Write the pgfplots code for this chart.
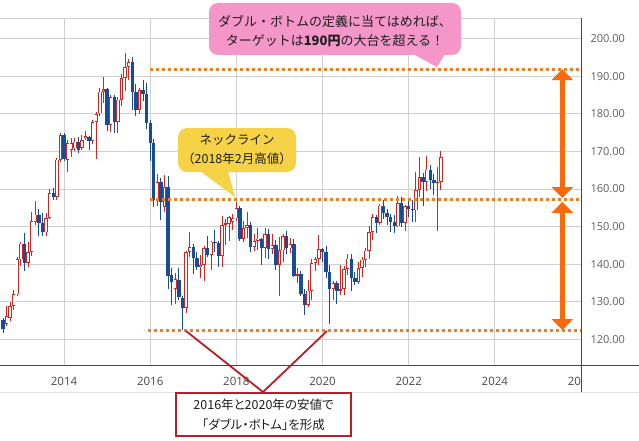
\documentclass[border=0pt]{standalone}
\usepackage{fontspec}
\setmainfont{Open Sans}
\newfontfamily\jp{Noto Sans CJK JP}
\newfontfamily\jpp{Noto Sans CJK JP}[RawFeature=+palt]
\usepackage{pgfplots}
\pgfplotsset{compat=1.18}
\usepackage{pgfplotstable}
\usetikzlibrary{arrows.meta}

\definecolor{upred}{RGB}{222,32,28}
\definecolor{dnblue}{RGB}{22,76,152}
\definecolor{gridc}{RGB}{208,208,208}
\definecolor{faint}{RGB}{228,228,228}
\definecolor{labgray}{RGB}{95,95,95}
\definecolor{xlabgray}{RGB}{75,75,75}
\definecolor{axisdark}{RGB}{70,70,70}
\definecolor{dotor}{RGB}{240,125,40}
\definecolor{arror}{RGB}{250,105,10}
\definecolor{pinkc}{RGB}{245,150,200}
\definecolor{yelc}{RGB}{245,210,70}
\definecolor{boxred}{RGB}{185,30,40}
\definecolor{txt}{RGB}{30,30,30}

% month index: 0 = Jan 2012
\pgfplotstableread{
m O H L C
8 124.1 128.9 123.5 126.3
9 125.8 130.0 124.9 128.9
10 128.9 133.2 127.8 132.0
11 132.0 141.8 131.5 141.3
12 141.3 146.0 139.6 145.5
14 140.4 145.9 139.4 143.2
15 143.2 153.8 142.2 151.4
16 151.2 156.7 150.5 153.2
19 148.5 153.6 147.6 152.3
20 152.3 160.0 152.0 158.9
22 157.9 168.2 157.0 167.8
23 167.8 174.8 167.3 174.4
25 167.8 173.1 164.5 172.2
26 170.4 173.5 168.6 172.2
27 170.8 173.5 170.0 172.6
29 171.0 174.5 170.4 173.0
30 173.5 175.5 173.0 174.0
32 172.8 178.5 172.0 177.8
33 177.8 180.5 168.0 180.0
34 180.1 187.0 179.5 185.9
35 185.9 189.8 183.0 186.5
37 177.0 185.0 175.1 184.5
39 177.8 184.5 175.0 183.8
40 183.8 190.5 182.0 189.5
41 189.5 196.2 186.0 192.4
42 192.4 194.5 189.0 193.8
45 181.0 186.8 180.0 186.3
50 157.0 164.0 155.5 161.8
52 155.3 163.7 154.0 160.6
55 133.5 137.8 129.5 136.0
58 128.4 143.5 127.0 143.2
59 143.2 148.6 142.0 144.6
62 139.3 142.5 136.4 139.8
63 139.8 144.8 135.6 144.3
65 142.4 146.3 138.6 146.0
68 142.3 152.8 139.4 150.5
69 150.5 152.0 145.0 150.9
70 150.8 152.9 146.3 152.5
71 151.2 153.4 149.2 152.2
72 152.2 156.6 151.5 155.0
74 146.8 151.5 145.9 149.6
75 149.6 153.8 146.9 150.4
77 144.7 148.0 143.6 146.2
78 146.2 149.7 143.8 146.8
80 144.4 149.7 141.7 148.0
82 144.0 148.0 142.8 145.0
84 139.8 147.3 131.5 143.7
85 143.7 148.0 140.5 147.5
87 144.2 147.0 143.0 145.3
89 136.9 139.1 135.0 137.3
92 129.2 135.8 128.6 133.0
93 133.0 141.5 130.4 140.3
94 140.3 142.0 138.3 141.4
95 141.4 147.9 139.7 144.0
99 133.5 135.6 130.6 135.0
101 133.0 139.7 131.8 133.4
102 133.4 139.5 131.9 138.8
103 138.8 142.7 137.2 141.5
106 135.4 140.7 134.8 139.0
107 139.0 141.8 136.6 141.2
108 141.2 144.2 139.4 143.6
109 143.6 150.3 141.3 148.6
110 148.6 153.4 146.5 152.6
112 151.1 156.0 150.4 155.6
117 150.1 158.2 149.8 156.2
119 151.0 155.8 148.9 155.4
122 154.3 164.6 151.3 159.8
123 159.8 168.5 158.0 163.2
125 162.0 168.7 159.4 165.2
128 161.6 166.0 148.8 162.0
129 162.0 170.2 159.7 168.5
}\upT

\pgfplotstableread{
m O H L C
7 125.2 125.8 121.7 122.8
13 145.5 148.3 138.2 140.4
17 153.2 154.6 147.5 151.0
18 151.0 153.5 147.5 148.5
21 158.9 160.2 157.1 157.9
24 174.4 174.8 167.5 168.0
28 172.6 173.9 169.5 170.4
31 173.9 174.0 170.4 172.8
36 186.5 186.8 175.5 177.0
38 184.5 185.0 175.0 177.8
43 193.8 195.0 181.0 185.8
44 185.8 188.0 179.5 181.0
46 186.3 189.0 183.5 185.4
47 185.4 188.2 176.0 177.5
48 177.5 178.5 167.5 172.2
49 172.2 173.3 155.2 157.0
51 161.8 163.0 151.8 156.5
53 160.6 163.5 133.3 137.0
54 137.2 139.0 129.1 135.2
56 135.8 139.0 130.5 131.3
57 131.0 131.5 122.4 128.4
60 144.6 145.5 137.5 141.7
61 141.7 143.3 138.6 139.3
64 144.3 147.5 142.0 142.4
66 146.0 149.0 143.2 145.6
67 145.6 146.3 139.3 142.3
73 155.0 155.5 146.2 146.8
76 150.4 151.3 143.2 144.7
79 146.8 147.0 139.9 144.4
81 148.0 149.5 141.4 144.0
83 145.0 146.4 138.4 139.8
86 147.5 148.9 142.7 144.2
88 145.3 146.6 136.5 136.9
90 137.3 138.3 131.6 132.2
91 132.2 133.3 126.6 129.2
96 144.0 144.3 140.6 143.2
97 143.2 144.9 136.4 138.0
98 138.0 139.7 124.0 133.5
100 135.0 135.6 129.3 133.0
104 141.5 142.7 133.0 136.3
105 136.3 138.0 134.4 135.4
111 152.6 153.2 148.3 151.1
113 155.6 157.0 152.0 153.5
114 153.5 154.7 150.4 152.7
115 152.7 153.3 148.5 151.3
116 151.3 153.0 148.3 150.1
118 156.2 157.8 149.8 151.0
120 155.4 157.7 152.5 154.7
121 154.7 157.0 151.3 154.3
124 163.2 164.3 155.6 162.0
126 165.2 166.3 160.1 162.3
127 162.3 164.0 158.3 161.6
}\dnT

\pgfplotsset{
  candle/.style 2 args={draw=none, mark=none, forget plot,
    error bars/.cd, y dir=plus, y explicit, error mark=none,
    error bar style={draw=#1, line width=#2}},
}

\begin{document}
\begin{tikzpicture}
\begin{axis}[
  name=ax,
  scale only axis, width=581pt, height=347pt,
  xmin=6.16, xmax=168, ymin=113.2, ymax=205.5,
  clip=false,
  axis line style={draw=none},
  tick style={draw=none},
  grid=major,
  major grid style={draw=gridc, line width=0.8pt},
  xtick={24,48,72,96,120,144,168},
  xticklabels={2014,2016,2018,2020,2022,2024,2026},
  ytick={120,130,...,200},
  yticklabel pos=right,
  /pgf/number format/.cd, fixed, fixed zerofill, precision=2, assume math mode=true, 1000 sep={},
  /pgfplots/.cd,
  tick label style={font=\fontsize{11}{13}\selectfont, text=labgray},
  xticklabel style={anchor=center, yshift=-16pt, font=\fontsize{11.5}{13}\selectfont, text=xlabgray},
  yticklabel style={anchor=west, xshift=6pt},
]
% wicks
\addplot[candle={upred}{1pt}] table[x=m, y=L, y error plus expr={\thisrow{H}-\thisrow{L}}] {\upT};
\addplot[candle={dnblue}{1pt}] table[x=m, y=L, y error plus expr={\thisrow{H}-\thisrow{L}}] {\dnT};
% bodies
\addplot[candle={upred}{3.4pt}] table[x=m, y=O, y error plus expr={\thisrow{C}-\thisrow{O}}] {\upT};
\addplot[candle={white}{1.8pt}] table[x=m, y expr={\thisrow{O}+0.2}, y error plus expr={max(\thisrow{C}-\thisrow{O}-0.4,0)}] {\upT};
\addplot[candle={dnblue}{3.4pt}] table[x=m, y=C, y error plus expr={\thisrow{O}-\thisrow{C}}] {\dnT};
% dotted guide lines
\draw[dotor, line width=3pt, dash pattern=on 3.2pt off 2.8pt] (axis cs:48,191.9) -- (axis cs:168,191.9);
\draw[dotor, line width=3pt, dash pattern=on 3.2pt off 2.8pt] (axis cs:48,157.1) -- (axis cs:168,157.1);
\draw[dotor, line width=3pt, dash pattern=on 3.2pt off 2.8pt] (axis cs:47.4,122.5) -- (axis cs:168,122.5);
% double arrows
\draw[arror, line width=5pt, {Triangle[width=21pt,length=11pt]}-{Triangle[width=21pt,length=11pt]}] (axis cs:162.8,191.9) -- (axis cs:162.8,157.6);
\draw[arror, line width=5pt, {Triangle[width=21pt,length=11pt]}-{Triangle[width=21pt,length=11pt]}] (axis cs:162.8,156.6) -- (axis cs:162.8,122.5);
\end{axis}
\begin{scope}[shift={(ax.south west)}, x=1pt, y=1pt, yshift=-75pt]
% frame pieces
\fill[white] (581.5,49) rectangle (639,74.5);
\draw[gridc, line width=0.8pt] (0,422) -- (581,422);
\draw[faint, line width=0.8pt] (0,48) -- (639,48);
\draw[axisdark, line width=0.9pt] (0,75) -- (639,75);
\draw[axisdark, line width=0.9pt] (581,422) -- (581,48);
% pink callout
\fill[pinkc, rounded corners=9pt] (209,385) rectangle (461,437);
\fill[pinkc] (413,386) -- (437,373) -- (445,386) -- cycle;
\node[font=\jp\fontsize{13}{15}\selectfont, text=txt] at (335,419) {ダブル・ボトムの定義に当てはめれば、};
\node[font=\jp\fontsize{13}{15}\selectfont, text=txt] at (335,399) {ターゲットは{\bfseries 190円}の大台を超える！};
% yellow callout
\fill[yelc, rounded corners=9pt] (178,268) rectangle (296,312);
\fill[yelc] (200,269) -- (235,243) -- (228,269) -- cycle;
\node[font=\jp\fontsize{12.5}{14}\selectfont, text=txt] at (237,300) {ネックライン};
\node[font=\jp\fontsize{12.5}{14}\selectfont, text=txt] at (237,281) {（2018年2月高値）};
% bottom box and pointer lines
\draw[boxred, line width=1.8pt] (186,109) -- (263,48) -- (327,109);
\draw[boxred, line width=2pt, fill=white] (176,4) rectangle (351,47);
\node[font=\jpp\fontsize{12.5}{14}\selectfont, text=txt] at (263.5,35) {2016年と2020年の安値で};
\node[font=\jpp\fontsize{12.5}{14}\selectfont, text=txt] at (263.5,15.5) {「ダブル・ボトム」を形成};
\pgfresetboundingbox
\path[use as bounding box] (0,0) rectangle (639,440);
\end{scope}
\end{tikzpicture}
\end{document}
